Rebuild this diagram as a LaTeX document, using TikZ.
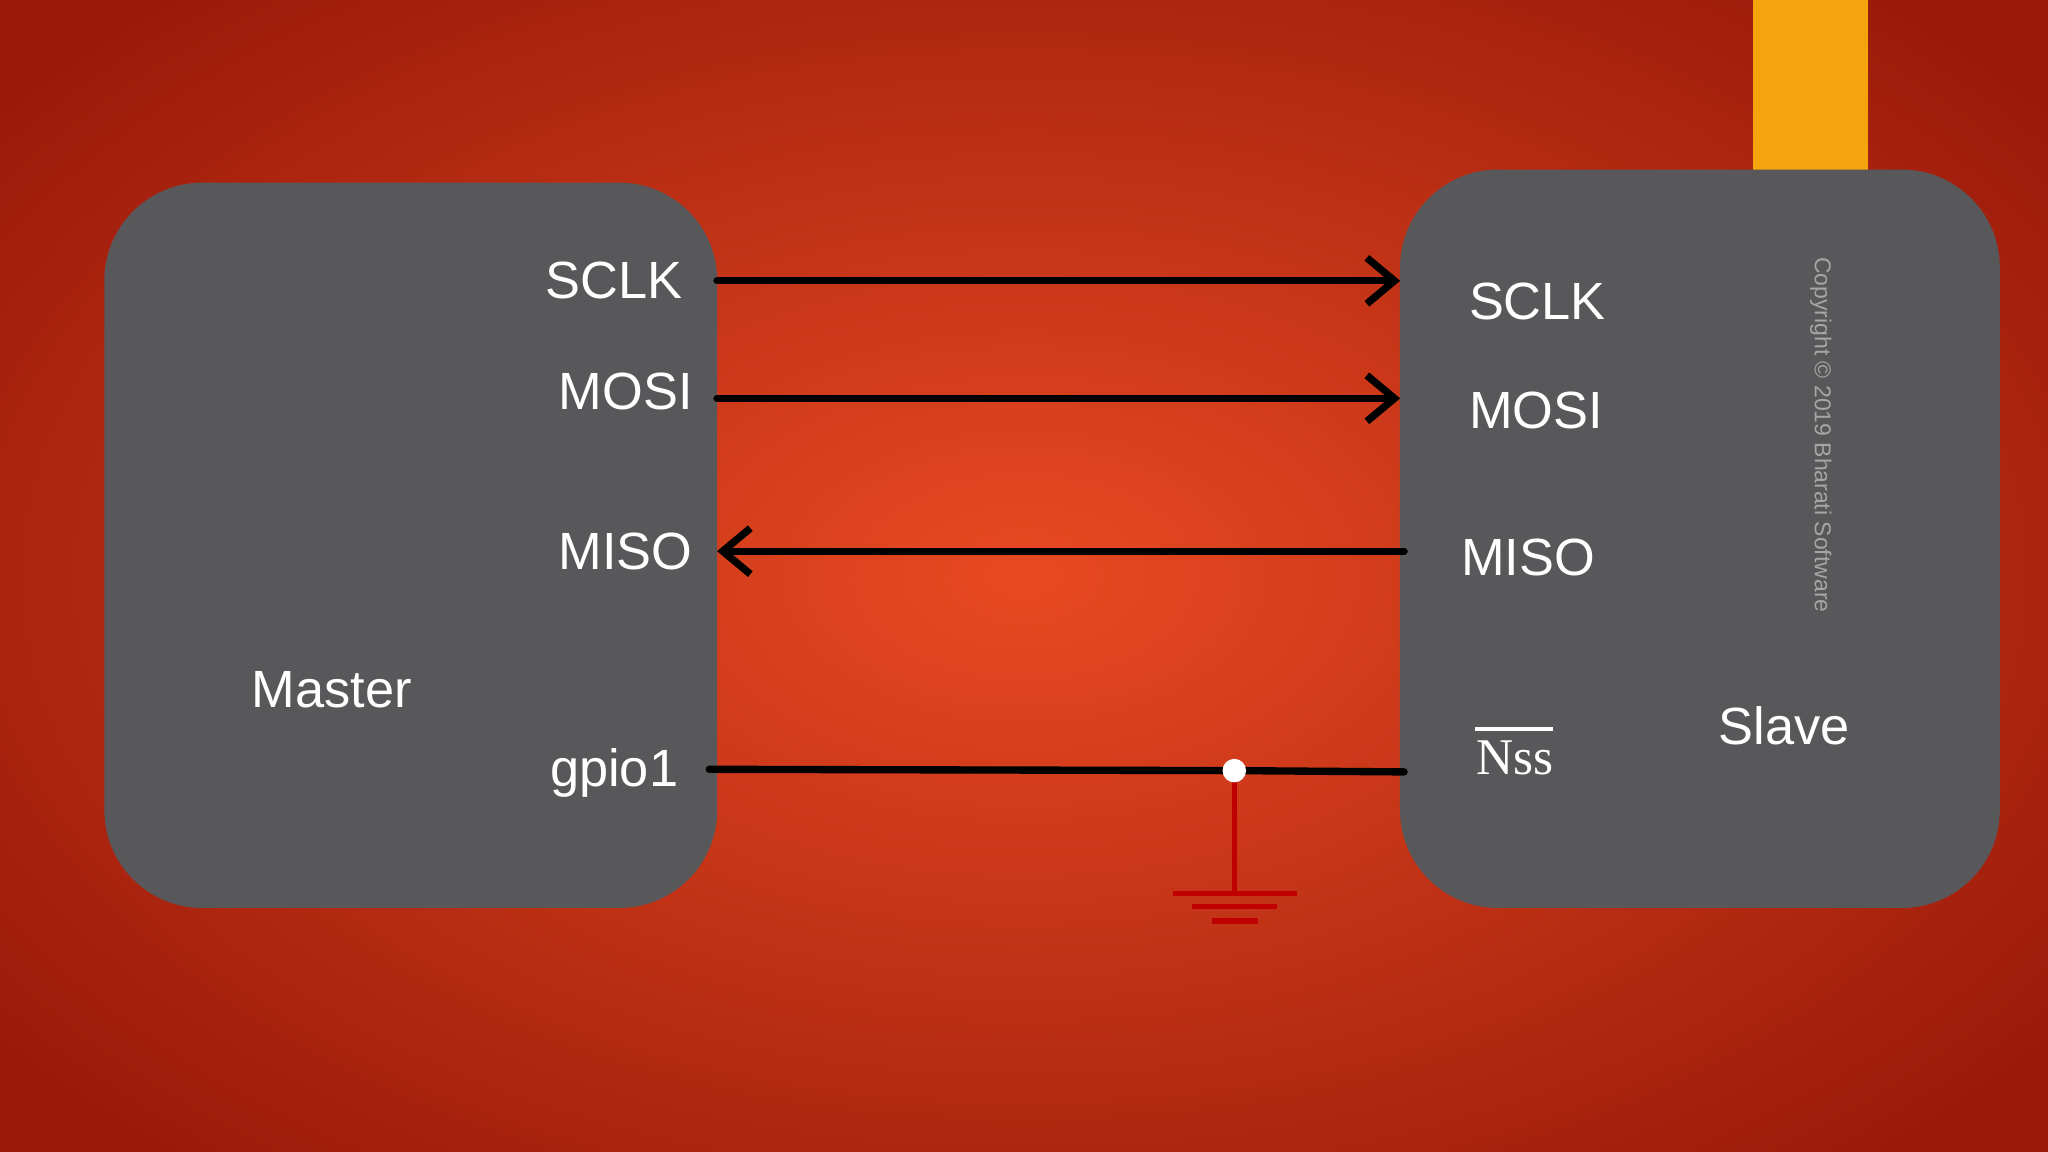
\documentclass[tikz,border=0pt]{standalone}
\usepackage{fontspec}
\setmainfont{Liberation Sans}
\newfontfamily\serifnss{Liberation Serif}
\usetikzlibrary{arrows.meta}
\definecolor{boxgray}{HTML}{58585A}
\definecolor{bgin}{HTML}{E84A22}
\definecolor{bgout}{HTML}{9A1A0A}
\definecolor{barY}{HTML}{F4A40C}
\definecolor{gnd}{HTML}{C00000}
\begin{document}
\begin{tikzpicture}[x=0.01cm,y=-0.01cm,
  chip/.style={fill=boxgray,draw=none,rounded corners=0.75cm},
  sig/.style={line width=1.6pt,black,line cap=round},
  arr/.style={-{Straight Barb[length=6pt,width=10pt,line width=1.6pt]}},
  lbl/.style={text=white,font=\fontsize{11.4}{14}\selectfont,inner sep=0pt},
  gl/.style={gnd,line width=1.2pt}]
\useasboundingbox (0,0) rectangle (1568,882);
\shade[inner color=bgin,outer color=bgout] (-200,-150) rectangle (1768,1032);
\fill[barY] (1342,0) rectangle (1430,135);
\node[chip,minimum width=4.69cm,minimum height=5.55cm] (master) at (314.5,417.5) {};
\node[chip,minimum width=4.59cm,minimum height=5.65cm] (slave) at (1301.5,412.5) {};
% labels master
\node[lbl,anchor=east] (msclk) at (523,215) {SCLK};
\node[lbl,anchor=east] (mmosi) at (531,300) {MOSI};
\node[lbl,anchor=east] (mmiso) at (531,422) {MISO};
\node[lbl] (mname) at (254,528) {Master};
\node[lbl,anchor=east] (mgpio) at (520,592) {gpio1};
% labels slave
\node[lbl,anchor=west] (ssclk) at (1124,231) {SCLK};
\node[lbl,anchor=west] (smosi) at (1124,314) {MOSI};
\node[lbl,anchor=west] (smiso) at (1118,427) {MISO};
\node[lbl,anchor=west,font=\fontsize{11.2}{14}\serifnss] (snss) at (1130,580) {Nss};
\node[lbl] (sname) at (1366,556) {Slave};
\node[text=gray!70!white,font=\fontsize{5.0}{7}\selectfont,rotate=-90,inner sep=0pt] (copy) at (1394,333) {Copyright © 2019 Bharati Software};
\draw[white,line width=0.8pt] (1129,558) -- (1189,558);
% coordinates
\coordinate (a1) at (549,215); \coordinate (a2) at (1072,215);
\coordinate (b1) at (549,305); \coordinate (b2) at (1072,305);
\coordinate (c1) at (1075,422); \coordinate (c2) at (549,422);
\coordinate (d1) at (543,589); \coordinate (d2) at (1075,591);
\coordinate (dot) at (945,590); \coordinate (g0) at (945,684);
\draw[sig,arr] (a1) -- (a2);
\draw[sig,arr] (b1) -- (b2);
\draw[sig,arr] (c1) -- (c2);
\draw[sig] (d1) -- (dot) -- (d2);
\draw[gl] (dot) -- (g0);
\draw[gl] (898,684) -- (993,684);
\draw[gl] (913,694) -- (978,694);
\draw[gl] (928,705) -- (963,705);
\fill[white] (dot) circle (9);
\end{tikzpicture}
\end{document}
